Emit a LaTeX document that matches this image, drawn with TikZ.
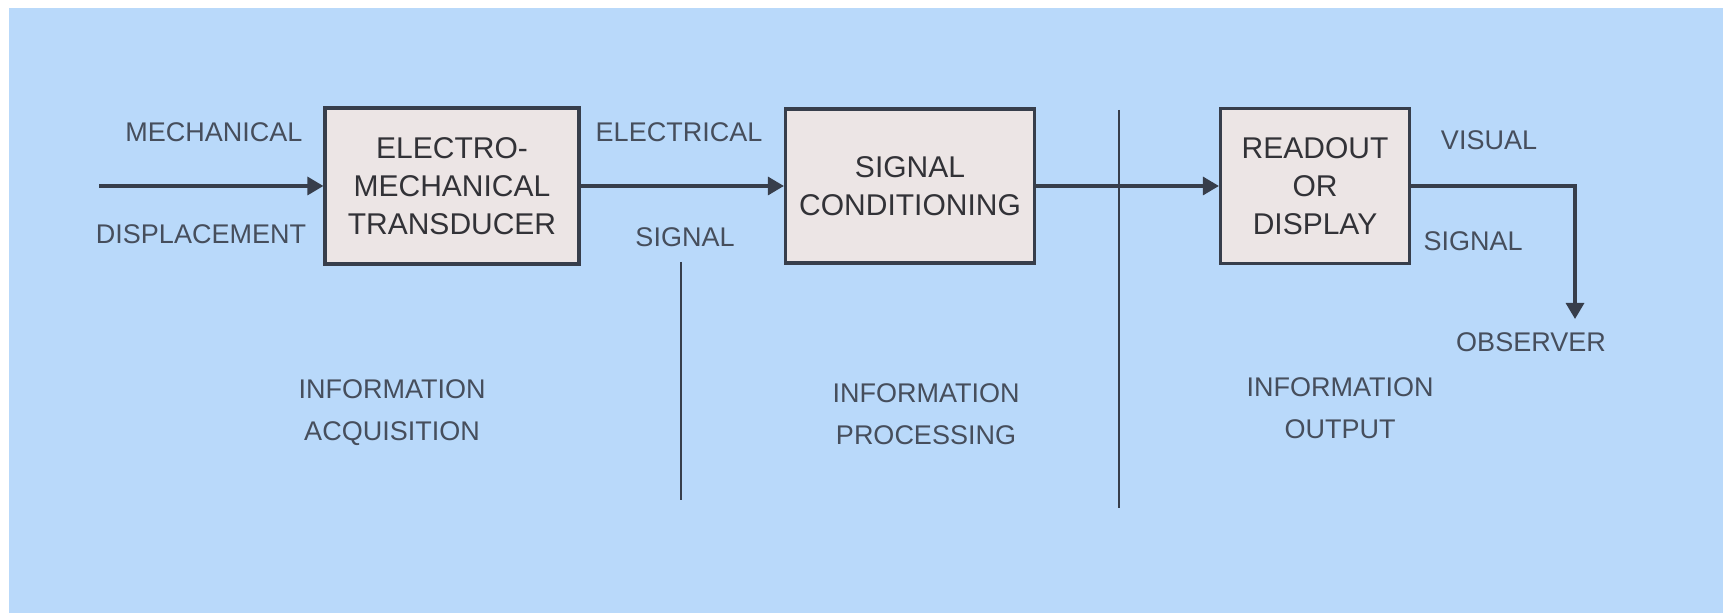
\documentclass[tikz,border=0pt]{standalone}
\usepackage{fontspec}
\setmainfont{Liberation Sans}
\usetikzlibrary{arrows.meta}
\definecolor{bg}{RGB}{185,217,250}
\definecolor{boxfill}{RGB}{236,229,229}
\definecolor{ink}{RGB}{55,62,75}
\definecolor{boxtxt}{RGB}{50,50,55}
\definecolor{txt}{RGB}{70,78,92}
\begin{document}
\begin{tikzpicture}[x=0.5pt,y=-0.5pt,
  blk/.style={draw=ink, line width=1.6pt, fill=boxfill, align=center,
    font=\fontsize{15}{19}\selectfont, text=boxtxt, inner sep=0pt},
  lbl/.style={text=txt, font=\fontsize{13.5}{21}\selectfont, align=center, inner sep=0pt},
  flow/.style={draw=ink, line width=1.6pt, -{Triangle[length=8pt,width=9pt]}},
  divider/.style={draw=ink, line width=1pt}]
\fill[white] (0,0) rectangle (1723,613);
\fill[bg] (9,8) rectangle (1723,613);
\useasboundingbox (0,0) rectangle (1723,613);

\node[blk, minimum width=127pt, minimum height=78pt] (emt) at (452,186) {ELECTRO-\\MECHANICAL\\TRANSDUCER};
\node[blk, minimum width=124.5pt, minimum height=77pt] (sc) at (910,186) {SIGNAL\\CONDITIONING};
\node[blk, minimum width=94.5pt, minimum height=77.5pt] (ro) at (1315,186) {READOUT\\OR\\DISPLAY};

\coordinate (in) at (99,186);
\coordinate (obs) at (1575,319);
\coordinate (d1t) at (681,262);
\coordinate (d1b) at (681,500);
\coordinate (d2t) at (1119,110);
\coordinate (d2b) at (1119,508);

\draw[divider] (d1t) -- (d1b);
\draw[divider] (d2t) -- (d2b);

\draw[flow] (in) -- (emt.west);
\draw[flow] (emt.east) -- (sc.west);
\draw[flow] (sc.east) -- (ro.west);
\draw[flow] (ro.east) -| (obs);

\node[lbl] (mech) at (214,132) {MECHANICAL};
\node[lbl] (disp) at (201,234) {DISPLACEMENT};
\node[lbl] (elec) at (679,132) {ELECTRICAL};
\node[lbl] (sig1) at (685,237) {SIGNAL};
\node[lbl] (vis) at (1489,140) {VISUAL};
\node[lbl] (sig2) at (1473,241) {SIGNAL};
\node[lbl] (obsl) at (1531,342) {OBSERVER};
\node[lbl] (acq) at (392,413) {INFORMATION\\ACQUISITION};
\node[lbl] (proc) at (926,414) {INFORMATION\\PROCESSING};
\node[lbl] (out) at (1340,408) {INFORMATION\\OUTPUT};
\end{tikzpicture}
\end{document}
